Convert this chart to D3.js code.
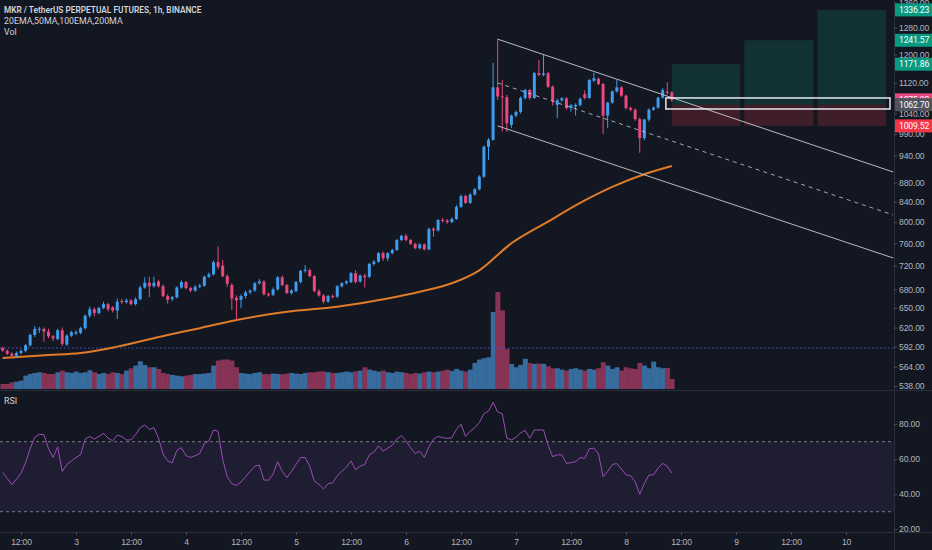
<!DOCTYPE html>
<html>
<head>
<meta charset="utf-8">
<script src="https://cdnjs.cloudflare.com/ajax/libs/d3/7.8.5/d3.min.js"></script>
<style>
  html, body { margin: 0; background: #131722; overflow: hidden; }
  svg { display: block; font-family: Roboto, "Noto Sans", sans-serif; }
</style>
</head>
<body>
<svg id="chart" width="932" height="550"></svg>
<script>
// ---- data (1h candles, hours counted from Jan 2 00:00) ----
const firstCandleHour = 8;

const opens = [
  590,586,582,579,583,586,594,609,617,618,
  614,607,603,616,595,608,611,612,619,638,
  648,642,650,656,651,646,661,659,662,656,
  664,683,691,685,693,685,669,664,667,683,
  692,682,678,684,686,701,705,726,720,702,
  687,666,663,669,675,678,690,693,672,671,
  680,700,687,674,677,692,711,712,702,677,
  670,660,669,668,685,690,692,707,693,703,
  701,723,727,742,733,742,748,766,774,766,
  759,751,758,749,787,784,804,803,800,806,
  830,852,838,855,866,893,960,976,1108,1084,
  1082,1012,1035,1044,1080,1101,1080,1147,1142,1146,
  1110,1062,1074,1079,1054,1058,1062,1090,1080,1126,
  1131,1117,1035,1068,1097,1108,1086,1054,1050,1026,
  980,1025,1050,1055,1081,1096,1094
];
const highs = [
  592,588,584,585,588,596,611,622,621,620,
  618,609,618,620,610,615,616,621,640,652,
  651,652,660,658,653,665,664,665,664,667,
  686,700,701,701,696,688,672,669,685,695,
  694,684,687,689,703,708,729,754,730,705,
  690,670,672,678,680,692,697,695,675,683,
  702,703,689,680,694,713,721,715,704,680,
  672,671,672,687,692,695,709,712,705,706,
  725,730,744,745,744,750,768,776,777,768,
  761,760,760,789,790,806,808,806,809,834,
  855,855,858,869,896,963,980,1176,1245,1128,
  1088,1038,1048,1084,1104,1104,1150,1184,1198,1150,
  1113,1078,1082,1082,1064,1066,1081,1100,1131,1148,
  1135,1120,1070,1100,1128,1111,1089,1058,1053,1030,
  1027,1053,1058,1083,1106,1122,1098
];
const lows = [
  585,580,577,577,581,584,592,606,612,599,
  604,600,601,593,593,606,609,610,617,635,
  637,640,648,645,643,633,656,657,654,654,
  662,681,667,683,683,667,657,661,665,681,
  680,675,676,682,684,699,703,714,700,684,
  647,631,650,665,672,676,688,670,668,669,
  678,685,672,671,675,690,708,700,675,668,
  657,658,665,666,683,688,690,690,691,683,
  699,720,725,728,728,740,746,764,764,757,
  749,749,747,747,772,782,799,797,798,804,
  828,836,836,853,864,890,930,974,1075,996,
  995,1004,1030,1040,1076,1075,1077,1138,1138,1106,
  1060,1029,1070,1050,1045,1035,1058,1076,1078,1122,
  1114,990,1005,1065,1094,1083,1050,1046,1022,946,
  975,1020,1047,1052,1078,1088,1070
];
const closes = [
  586,582,579,583,586,594,609,618,618,614,
  607,604,616,596,608,613,613,619,638,648,
  642,650,656,648,646,660,660,662,656,664,
  683,691,685,691,685,669,663,667,683,692,
  682,678,684,686,701,705,726,718,702,689,
  665,662,669,675,678,690,693,672,671,680,
  700,687,674,678,692,711,713,702,677,670,
  660,669,668,685,690,693,707,692,703,700,
  723,727,742,733,742,748,766,774,766,759,
  751,758,749,787,784,804,803,800,806,830,
  852,838,855,866,893,960,976,1108,1084,1082,
  1016,1035,1044,1080,1101,1080,1147,1142,1146,1110,
  1072,1074,1079,1054,1061,1062,1078,1080,1128,1133,
  1117,1035,1068,1097,1108,1086,1054,1050,1026,980,
  1025,1050,1055,1081,1101,1093,1075
];
const volumes = [
  15,15,20,22,25,40,45,48,50,48,
  45,45,50,55,50,48,52,48,50,56,
  50,45,48,45,50,48,45,55,62,70,
  83,72,65,65,60,48,45,42,40,38,
  40,42,45,45,46,48,70,85,88,88,
  85,65,48,46,45,48,50,45,44,46,
  45,44,46,48,46,45,48,50,50,52,
  53,50,48,48,50,52,50,53,55,65,
  58,55,52,55,50,48,52,50,48,45,
  48,46,50,52,50,52,55,58,54,60,
  55,52,58,78,88,92,95,230,290,235,
  120,75,65,72,90,78,75,76,75,68,
  62,62,58,55,60,62,58,55,60,58,
  62,80,70,60,65,55,65,62,60,78,
  70,62,82,65,62,63,30
];
const rsiValues = [
  52.5,49,45.5,48.5,52,58,66,72.5,74.2,74,
  66,61,67,53,57,59,61,62.5,71.5,73,
  71.5,73,74.8,72,70.5,73.8,73,71,71,74,
  78,79.5,77,78,72,63,59,58,65,66.6,
  62,61,62,63.3,69,70.5,76.7,76,60,50,
  46,45,47,50,53,56,56.7,48.1,48,51.5,
  58.6,53,49.5,53,57,61,61,56,47.5,45.6,
  43,46,46.5,50.5,53,55.5,59,54,56,57,
  62.5,64,67.7,64.6,66.3,68,71.5,73.5,70.5,66.5,
  63.3,64.6,61,67,71.5,73,72.3,71.9,72.3,77,
  80,73,76,78,81,86,87.5,92.5,87,86,
  72,71,72.5,75,76.5,72,76.7,76.7,76.7,68,
  61.4,62.5,62.5,57.6,58,58.6,60.9,60.5,66,66.3,
  63,50,53,57,57.5,54.4,51,50.6,47.1,40,
  46,51,51,55,57.6,56,52
];

// orange moving average, read at a few candles
const maCandleIdx = [0,10,17,25,36,43,50,62,73,84,91,98,104,111,119,126,133,140,146];
const maValues    = [576,580,583,592,609,619,630,644,652,665,676,690,712,760,801,838,871,898,916];

const hLinePrice = 590;

// parallel channel (hour, price) at start and right edge
const channelHours = [116, 202.3];
const channelTop = [1245, 903];
const channelMid = [1120, 814];
const channelBot = [1009.5, 733.5];

// long position tool
const entryPrice = 1062.70;
const stopPrice = 1009.52;
const targetPrices = [1171.86, 1241.57, 1336.23];
const zoneStartHours = [154, 169.8, 185.8];
const zoneEndHours = [168.9, 184.9, 200.7];
const boxHours = [152.7, 201.6];
const boxPrices = [1051.6, 1080];

const priceTicks = [1360,1280,1200,1120,1040,990,940,880,840,800,760,720,680,650,620,592,564,538];
const rsiTicks = [20,40,60,80];
const rsiBand = [30,70];
const timeTickHours = [12,24,36,48,60,72,84,96,108,120,132,144,156,168,180,192];
const timeTickLabels = ['12:00','3','12:00','4','12:00','5','12:00','6','12:00','7','12:00','8','12:00','9','12:00','10'];

// ---- layout ----
const W = 932, H = 550;
const paneRight = 894, mainBottom = 390, rsiBottom = 532;
const upColor = '#3f9ded', downColor = '#e9497f';
const axisText = '#b2b5be';
const fmt = d3.format('.2f');

const svg = d3.select('#chart');
svg.append('rect').attr('width', W).attr('height', H).attr('fill', '#131722');

const x = d3.scaleLinear().domain([12, 192]).range([21, 846]);
const y = d3.scaleLog().domain([538, 1336.23]).range([386.2, 9.9]);
const yVol = d3.scaleLinear().domain([0, 290]).range([389, 292]);
const yRsi = d3.scaleLinear().domain([20, 80]).range([529.2, 424.2]);
const step = x(13) - x(12);

const candles = opens.map((o, i) => ({
  t: firstCandleHour + i, o, h: highs[i], l: lows[i], c: closes[i],
  v: volumes[i], rsi: rsiValues[i]
}));

const defs = svg.append('defs');
defs.append('clipPath').attr('id', 'clipMain')
  .append('rect').attr('x', 0).attr('y', 0).attr('width', paneRight).attr('height', mainBottom);
defs.append('clipPath').attr('id', 'clipRsi')
  .append('rect').attr('x', 0).attr('y', mainBottom + 1).attr('width', paneRight).attr('height', rsiBottom - mainBottom - 1);

const main = svg.append('g').attr('clip-path', 'url(#clipMain)');

// volume
main.append('g').selectAll('rect')
  .data(candles)
  .enter()
  .append('rect')
    .attr('x', d => x(d.t) - step / 2)
    .attr('width', step + 0.4)
    .attr('y', d => yVol(d.v))
    .attr('height', d => yVol(0) - yVol(d.v))
    .attr('fill', d => d.c >= d.o ? '#376c9f' : '#873356');

// dotted horizontal line
main.append('line')
  .attr('x1', 0).attr('x2', paneRight)
  .attr('y1', y(hLinePrice)).attr('y2', y(hLinePrice))
  .attr('stroke', '#5558d0').attr('stroke-width', 1).attr('stroke-dasharray', '1.5,2.5');

// moving average
const maLine = d3.line()
  .x((d, i) => x(firstCandleHour + maCandleIdx[i]))
  .y(d => y(d))
  .curve(d3.curveMonotoneX);
main.append('path')
  .attr('d', maLine(maValues))
  .attr('fill', 'none')
  .attr('stroke', '#e07b28')
  .attr('stroke-width', 2);

// position tool zones
const zones = main.append('g');
targetPrices.forEach((tp, i) => {
  zones.append('rect')
    .attr('x', x(zoneStartHours[i]))
    .attr('width', x(zoneEndHours[i]) - x(zoneStartHours[i]))
    .attr('y', y(tp))
    .attr('height', y(entryPrice) - y(tp))
    .attr('fill', 'rgba(8,153,129,0.2)');
  zones.append('rect')
    .attr('x', x(zoneStartHours[i]))
    .attr('width', x(zoneEndHours[i]) - x(zoneStartHours[i]))
    .attr('y', y(entryPrice))
    .attr('height', y(stopPrice) - y(entryPrice))
    .attr('fill', 'rgba(242,54,69,0.2)');
});

// candles
const cg = main.append('g').selectAll('g')
  .data(candles)
  .enter()
  .append('g')
    .attr('fill', d => d.c >= d.o ? upColor : downColor)
    .attr('stroke', d => d.c >= d.o ? upColor : downColor);
cg.append('line')
  .attr('x1', d => x(d.t)).attr('x2', d => x(d.t))
  .attr('y1', d => y(d.h)).attr('y2', d => y(d.l))
  .attr('stroke-width', 1);
cg.append('rect')
  .attr('x', d => x(d.t) - 1.5)
  .attr('width', 3)
  .attr('y', d => y(Math.max(d.o, d.c)))
  .attr('height', d => Math.max(1, y(Math.min(d.o, d.c)) - y(Math.max(d.o, d.c))))
  .attr('stroke', 'none');

// channel
const chan = main.append('g').attr('fill', 'none').attr('stroke', '#c9ccd4').attr('stroke-width', 1);
[channelTop, channelMid, channelBot].forEach((prices, k) => {
  chan.append('line')
    .attr('x1', x(channelHours[0])).attr('y1', y(prices[0]))
    .attr('x2', x(channelHours[1])).attr('y2', y(prices[1]))
    .attr('stroke-dasharray', k === 1 ? '4,4' : null)
    .attr('opacity', k === 1 ? 0.8 : 0.9);
});

// white box around entry
main.append('rect')
  .attr('x', x(boxHours[0]))
  .attr('width', x(boxHours[1]) - x(boxHours[0]))
  .attr('y', y(boxPrices[1]))
  .attr('height', y(boxPrices[0]) - y(boxPrices[1]))
  .attr('fill', 'none')
  .attr('stroke', '#e8e9ec')
  .attr('stroke-width', 1.5);

// RSI pane
const rsiG = svg.append('g').attr('clip-path', 'url(#clipRsi)');
rsiG.append('rect')
  .attr('x', 0).attr('width', paneRight)
  .attr('y', yRsi(rsiBand[1]))
  .attr('height', yRsi(rsiBand[0]) - yRsi(rsiBand[1]))
  .attr('fill', 'rgba(126,87,194,0.1)');
rsiBand.forEach(v => {
  rsiG.append('line')
    .attr('x1', 0).attr('x2', paneRight)
    .attr('y1', yRsi(v)).attr('y2', yRsi(v))
    .attr('stroke', '#787b86').attr('stroke-dasharray', '3,3');
});
const rsiLine = d3.line().x(d => x(d.t)).y(d => yRsi(d.rsi));
rsiG.append('path')
  .attr('d', rsiLine(candles))
  .attr('fill', 'none')
  .attr('stroke', '#9c4db6')
  .attr('stroke-width', 1);

// separators
svg.append('line').attr('x1', 0).attr('x2', W).attr('y1', mainBottom + 0.5).attr('y2', mainBottom + 0.5).attr('stroke', '#2a2e39');
svg.append('line').attr('x1', 0).attr('x2', W).attr('y1', rsiBottom + 0.5).attr('y2', rsiBottom + 0.5).attr('stroke', '#2a2e39');
svg.append('line').attr('x1', paneRight + 0.5).attr('x2', paneRight + 0.5).attr('y1', 0).attr('y2', H).attr('stroke', '#2a2e39');

// axes
const styleAxis = g => {
  g.select('.domain').remove();
  g.selectAll('line').attr('stroke', '#4a4e59');
  g.selectAll('text').attr('fill', axisText).attr('font-size', '8.6px').attr('letter-spacing', '-0.15px');
};
svg.append('g')
  .attr('transform', `translate(${paneRight},0)`)
  .call(d3.axisRight(y).tickValues(priceTicks).tickFormat(fmt).tickSize(3).tickPadding(2))
  .call(styleAxis);
svg.append('g')
  .attr('transform', `translate(${paneRight},0)`)
  .call(d3.axisRight(yRsi).tickValues(rsiTicks).tickFormat(fmt).tickSize(3).tickPadding(2))
  .call(styleAxis);
svg.append('g')
  .attr('transform', `translate(0,${rsiBottom})`)
  .call(d3.axisBottom(x).tickValues(timeTickHours).tickFormat((d, i) => timeTickLabels[i]).tickSize(3).tickPadding(4))
  .call(styleAxis);

// price badges
const badges = [
  ...targetPrices.map(p => ({ p, fill: '#089981' })),
  { p: closes[closes.length - 1], fill: downColor },
  { p: entryPrice, fill: '#50535e' },
  { p: stopPrice, fill: '#f23645' }
];
const bg = svg.append('g').selectAll('g').data(badges).enter().append('g')
  .attr('transform', d => `translate(${paneRight + 1},${y(d.p)})`);
bg.append('rect').attr('x', 0).attr('y', -6.5).attr('width', 37).attr('height', 13).attr('fill', d => d.fill);
bg.append('text').attr('x', 4).attr('dy', '0.35em')
  .attr('fill', '#ffffff').attr('font-size', '8.6px').attr('letter-spacing', '-0.15px')
  .text(d => fmt(d.p));

// legend
const legend = svg.append('g').attr('fill', '#d1d4dc').attr('font-size', '8.8px');
legend.append('text').attr('x', 4).attr('y', 13).attr('font-weight', 600).attr('font-size', '8.3px')
  .text('MKR / TetherUS PERPETUAL FUTURES, 1h, BINANCE');
legend.append('text').attr('x', 4).attr('y', 24).text('20EMA,50MA,100EMA,200MA');
legend.append('text').attr('x', 4).attr('y', 35).text('Vol');
svg.append('text').attr('x', 4).attr('y', 404).attr('fill', '#d1d4dc').attr('font-size', '8.8px').text('RSI');
</script>
</body>
</html>
